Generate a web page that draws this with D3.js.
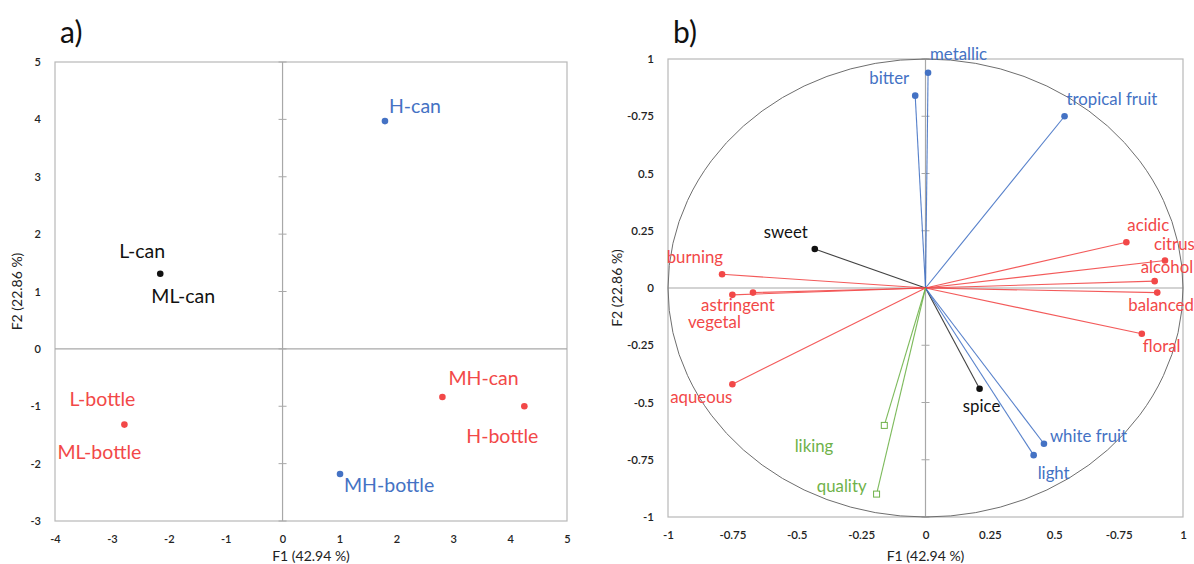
<!DOCTYPE html>
<html>
<head>
<meta charset="utf-8">
<script src="https://cdn.jsdelivr.net/npm/d3@7"></script>
<style>
  body { margin: 0; background: #fff; }
  svg { display: block; font-family: Lato, "Open Sans", sans-serif; }
</style>
</head>
<body>
<svg width="1194" height="564"></svg>
<script>
// panel a : observations (scores)
const obsNames = ["H-can", "L-can", "L-bottle", "MH-can", "H-bottle", "MH-bottle"];
const obsF1 = [1.80, -2.15, -2.78, 2.81, 4.25, 1.01];
const obsF2 = [3.97, 1.31, -1.32, -0.84, -1.00, -2.18];
const obsGroup = ["blue", "black", "red", "red", "red", "blue"];
// labels of panel a (two samples share one point)
const obsLabelText = ["H-can", "L-can", "ML-can", "L-bottle", "ML-bottle", "MH-can", "H-bottle", "MH-bottle"];
const obsLabelPoint = [0, 1, 1, 2, 2, 3, 4, 5];
const aTicksX = [-4, -3, -2, -1, 0, 1, 2, 3, 4, 5];
const aTicksY = [-3, -2, -1, 0, 1, 2, 3, 4, 5];

// panel b : variables (correlation circle)
const varNames = ["metallic", "bitter", "tropical fruit", "acidic", "citrus", "alcohol", "balanced", "floral",
  "spice", "white fruit", "light", "sweet", "burning", "astringent", "vegetal", "aqueous", "liking", "quality"];
const varF1 = [0.01, -0.04, 0.54, 0.78, 0.93, 0.89, 0.90, 0.84, 0.21, 0.46, 0.42, -0.43, -0.79, -0.67, -0.75, -0.75, -0.16, -0.19];
const varF2 = [0.94, 0.84, 0.75, 0.20, 0.12, 0.03, -0.02, -0.20, -0.44, -0.68, -0.73, 0.17, 0.06, -0.02, -0.03, -0.42, -0.60, -0.90];
const varGroup = ["blue", "blue", "blue", "red", "red", "red", "red", "red",
  "black", "blue", "blue", "black", "red", "red", "red", "red", "green", "green"];
const varSupp = [false, false, false, false, false, false, false, false,
  false, false, false, false, false, false, false, false, true, true];
const bTicks = [-1, -0.75, -0.5, -0.25, 0, 0.25, 0.5, 0.75, 1];
const bTickLabels = ["-1", "-0.75", "-0.5", "-0.25", "0", "0.25", "0.5", "-0.75", "1"];

// couleurs
const colour = {blue: "#4472c4", red: "#f24848", black: "#111", green: "#6fb24a"};

// placement des étiquettes : [dx, dy, ancrage]
const aLabelPos = [[4, -16, "start"], [-18, -23, "middle"], [23, 22, "middle"], [-22, -26, "middle"],
  [-25, 27, "middle"], [6, -20, "start"], [-22, 29, "middle"], [4, 11, "start"]];
const bLabelPos = [[2, -19, "start"], [-6, -18, "end"], [2, -18, "start"], [1, -18, "start"], [-11, -17, "start"],
  [-14, -15, "start"], [-29, 12, "start"], [1, 12, "start"], [2, 17, "middle"], [6, -8, "start"],
  [4, 17, "start"], [-7, -18, "end"], [1, -18, "end"], [-15, 12, "middle"], [-18, 27, "middle"],
  [0, 12, "end"], [-51, 20, "end"], [-10, -9, "end"]];

const svg = d3.select("svg");

function cadre(x, y, title, xTicks, yTicks, fmt, tickFont, titleX) {
  const g = svg.append("g");
  const [x0, x1] = x.range(), [y1, y0] = y.range();
  g.append("rect").attr("x", x0).attr("y", y0).attr("width", x1 - x0).attr("height", y1 - y0)
    .attr("fill", "none").attr("stroke", "#b8b8b8").attr("stroke-width", 1.2);
  // axes passant par zéro
  g.append("line").attr("x1", x0).attr("x2", x1).attr("y1", y(0)).attr("y2", y(0))
    .attr("stroke", "#a8a8a8").attr("stroke-width", 1.2);
  g.append("line").attr("x1", x(0)).attr("x2", x(0)).attr("y1", y0).attr("y2", y1)
    .attr("stroke", "#a8a8a8").attr("stroke-width", 1.2);
  g.selectAll(".tk").data(yTicks).enter().append("line")
    .attr("x1", x(0) - 4).attr("x2", x(0) + 4).attr("y1", d => y(d)).attr("y2", d => y(d))
    .attr("stroke", "#a8a8a8");
  const ax = g.append("g").attr("transform", `translate(0,${y1 + 11})`)
    .call(d3.axisBottom(x).tickValues(xTicks).tickSize(0).tickFormat(fmt));
  const ay = g.append("g").attr("transform", `translate(${x0 - 11},0)`)
    .call(d3.axisLeft(y).tickValues(yTicks).tickSize(0).tickFormat(fmt));
  [ax, ay].forEach(a => {
    a.select(".domain").remove();
    a.selectAll("text").attr("font-size", tickFont).attr("fill", "#222")
      .attr("font-family", "Lato, sans-serif").attr("font-weight", 600);
  });
  g.append("text").attr("x", (x0 + x1) / 2).attr("y", 561).attr("text-anchor", "middle")
    .attr("font-size", 14).attr("fill", "#222").text("F1 (42.94 %)");
  g.append("text").attr("transform", `translate(${titleX},${(y0 + y1) / 2}) rotate(-90)`)
    .attr("text-anchor", "middle").attr("font-size", 14).attr("fill", "#222").text("F2 (22.86 %)");
  g.append("text").attr("x", x0 + 5).attr("y", 43).attr("font-size", 30).attr("fill", "#111").text(title);
}

// ---------- panel a ----------
const xa = d3.scaleLinear().domain([-4, 5]).range([55, 567]);
const ya = d3.scaleLinear().domain([-3, 5]).range([521, 62]);
cadre(xa, ya, "a)", aTicksX, aTicksY, d => d, 11, 22);

svg.append("g").selectAll("circle").data(obsNames).enter().append("circle")
  .attr("cx", (d, i) => xa(obsF1[i])).attr("cy", (d, i) => ya(obsF2[i])).attr("r", 3.3)
  .attr("fill", (d, i) => colour[obsGroup[i]]);
svg.append("g").selectAll("text").data(obsLabelText).enter().append("text")
  .attr("x", (d, i) => xa(obsF1[obsLabelPoint[i]]) + aLabelPos[i][0])
  .attr("y", (d, i) => ya(obsF2[obsLabelPoint[i]]) + aLabelPos[i][1])
  .attr("text-anchor", (d, i) => aLabelPos[i][2]).attr("dominant-baseline", "central")
  .attr("font-size", 19.5).attr("fill", (d, i) => colour[obsGroup[obsLabelPoint[i]]]).text(d => d);

// ---------- panel b ----------
const xb = d3.scaleLinear().domain([-1, 1]).range([668, 1183]);
const yb = d3.scaleLinear().domain([-1, 1]).range([517, 59]);
cadre(xb, yb, "b)", bTicks, bTicks, d => bTickLabels[bTicks.indexOf(d)], 11.5, 622);

svg.append("ellipse").attr("cx", xb(0)).attr("cy", yb(0))
  .attr("rx", xb(1) - xb(0)).attr("ry", yb(0) - yb(1))
  .attr("fill", "none").attr("stroke", "#6e6e6e").attr("stroke-width", 1);

const vec = svg.append("g");
vec.selectAll("line").data(varNames).enter().append("line")
  .attr("x1", xb(0)).attr("y1", yb(0))
  .attr("x2", (d, i) => xb(varF1[i])).attr("y2", (d, i) => yb(varF2[i]))
  .attr("stroke", (d, i) => colour[varGroup[i]]).attr("stroke-width", 1.1)
  .attr("stroke-opacity", (d, i) => varGroup[i] === "black" ? 0.8 : 0.9);
vec.selectAll("circle").data(varNames.filter((d, i) => !varSupp[i])).enter().append("circle")
  .attr("cx", d => xb(varF1[varNames.indexOf(d)])).attr("cy", d => yb(varF2[varNames.indexOf(d)]))
  .attr("r", 3.3).attr("fill", d => colour[varGroup[varNames.indexOf(d)]]);
vec.selectAll("rect").data(varNames.filter((d, i) => varSupp[i])).enter().append("rect")
  .attr("x", d => xb(varF1[varNames.indexOf(d)]) - 3).attr("y", d => yb(varF2[varNames.indexOf(d)]) - 3)
  .attr("width", 6).attr("height", 6).attr("fill", "#fff")
  .attr("stroke", colour.green).attr("stroke-width", 1);
vec.selectAll("text").data(varNames).enter().append("text")
  .attr("x", (d, i) => xb(varF1[i]) + bLabelPos[i][0])
  .attr("y", (d, i) => yb(varF2[i]) + bLabelPos[i][1])
  .attr("text-anchor", (d, i) => bLabelPos[i][2]).attr("dominant-baseline", "central")
  .attr("font-size", 16.8).attr("fill", (d, i) => colour[varGroup[i]]).text(d => d);
</script>
</body>
</html>
